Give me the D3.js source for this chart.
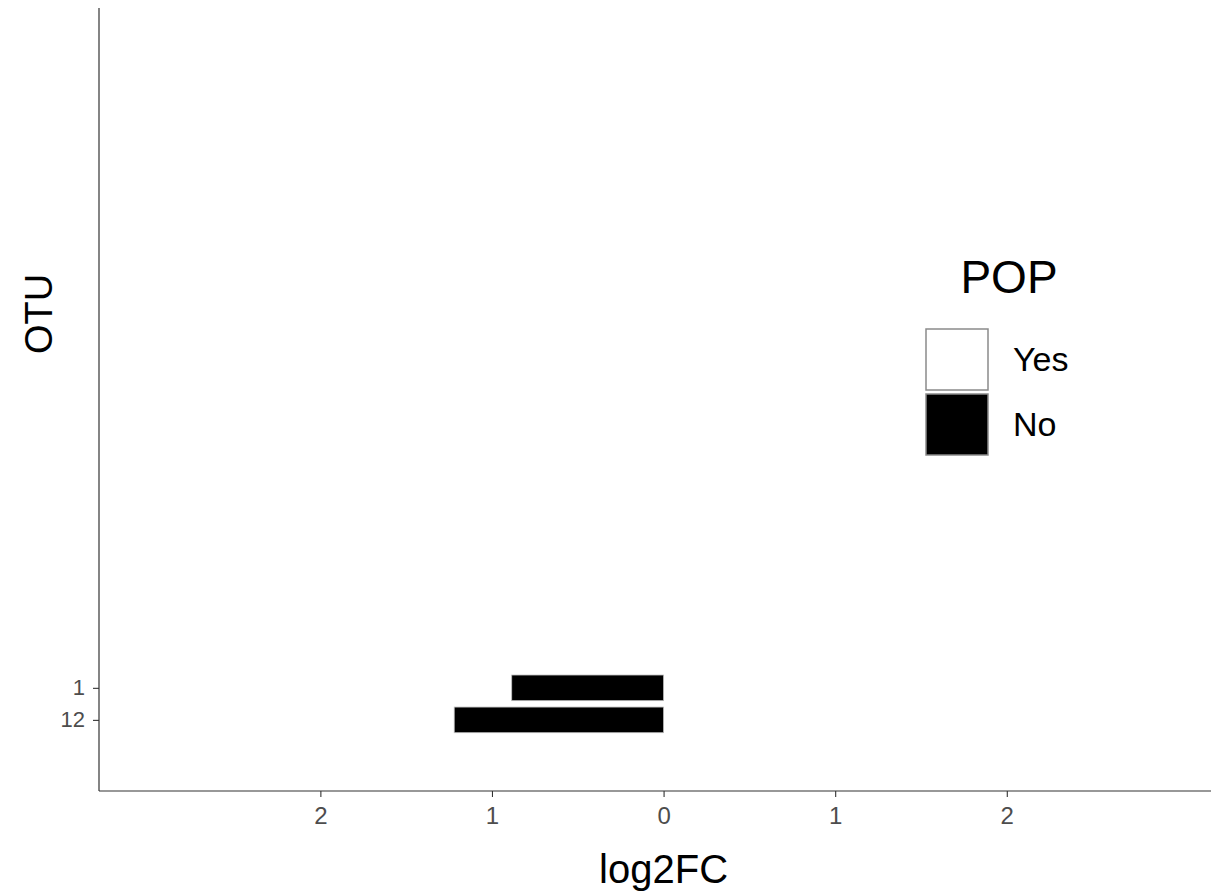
<!DOCTYPE html>
<html>
<head>
<meta charset="utf-8">
<script src="https://cdn.jsdelivr.net/npm/d3@7"></script>
<style>
   body { margin: 0; background: #fff; }
   text { font-family: "Liberation Sans", Arial, sans-serif; }
</style>
</head>
<body>
<svg id="chart" width="1220" height="893"></svg>
<script>
// DATA
var otuLabels = ['12', '1'];          // bottom to top, ggplot discrete order
var otuSlots = [1, 2];                // discrete positions of the levels
var log2FC = [-1.22, -0.885];         // bar values
var popStatus = ['No', 'No'];
var yLimits = [-1.22, 23.22];         // panel extent in slot units
var xLimits = [-3.29, 3.19];
var xTicks = [-2, -1, 0, 1, 2];
var legendLevels = ['Yes', 'No'];
var legendFills = ['#ffffff', '#000000'];

var svg = d3.select('#chart');

var bounds = {left: 99, right: 1211, top: 8, bottom: 791};

var x = d3.scaleLinear()
   .domain(xLimits)
   .range([bounds.left, bounds.right]);

var y = d3.scaleLinear()
   .domain(yLimits)
   .range([bounds.bottom, bounds.top]);

var fill = d3.scaleOrdinal()
   .domain(legendLevels)
   .range(legendFills);

var barWidth = 0.8;

var rows = otuLabels.map(function (label, i) {
   return {otu: label, slot: otuSlots[i], value: log2FC[i], pop: popStatus[i]};
});

// bars
svg.append('g')
   .selectAll('rect')
   .data(rows)
   .enter().append('rect')
   .attr('x', function (d) { return x(Math.min(0, d.value)); })
   .attr('width', function (d) { return Math.abs(x(d.value) - x(0)); })
   .attr('y', function (d) { return y(d.slot + barWidth / 2); })
   .attr('height', function (d) { return y(d.slot - barWidth / 2) - y(d.slot + barWidth / 2); })
   .attr('fill', function (d) { return fill(d.pop); })
   .attr('stroke', '#bdbdbd')
   .attr('stroke-width', 0.8);

// axes
var xAxis = d3.axisBottom(x)
   .tickValues(xTicks)
   .tickSize(6)
   .tickPadding(10)
   .tickFormat(function (d) { return Math.abs(d); });

var xg = svg.append('g')
   .attr('transform', 'translate(0,' + bounds.bottom + ')')
   .call(xAxis);

var yAxis = d3.axisLeft(y)
   .tickValues(otuSlots)
   .tickSize(6)
   .tickPadding(8)
   .tickFormat(function (d) { return otuLabels[otuSlots.indexOf(d)]; });

var yg = svg.append('g')
   .attr('transform', 'translate(' + bounds.left + ',0)')
   .call(yAxis);

[xg, yg].forEach(function (g) {
   g.select('.domain')
      .attr('d', g === xg
         ? 'M' + bounds.left + ',0H' + bounds.right
         : 'M0,' + bounds.top + 'V' + bounds.bottom)
      .attr('stroke', '#333')
      .attr('stroke-width', 1.2);
   g.selectAll('.tick line').attr('stroke', '#333').attr('stroke-width', 1.1);
   g.selectAll('.tick text')
      .attr('fill', '#4d4d4d')
      .style('font-size', g === xg ? '24px' : '22px')
      .style('font-family', '"Liberation Sans", Arial, sans-serif');
});

// axis titles
svg.append('text')
   .attr('x', x(0))
   .attr('y', 883)
   .attr('text-anchor', 'middle')
   .style('font-size', '40px')
   .text('log2FC');

svg.append('text')
   .attr('transform', 'translate(52,314) rotate(-90)')
   .attr('text-anchor', 'middle')
   .style('font-size', '38px')
   .text('OTU');

// legend
var legend = svg.append('g')
   .attr('transform', 'translate(926,329)');

legend.append('text')
   .attr('x', 83)
   .attr('y', -36)
   .attr('text-anchor', 'middle')
   .style('font-size', '46px')
   .text('POP');

var item = legend.selectAll('.legendItem')
   .data(legendLevels)
   .enter().append('g')
   .attr('class', 'legendItem')
   .attr('transform', function (d, i) { return 'translate(0,' + i * 65 + ')'; });

item.append('rect')
   .attr('width', 62)
   .attr('height', 61)
   .attr('fill', function (d) { return fill(d); })
   .attr('stroke', '#8a8a8a')
   .attr('stroke-width', 1.5);

item.append('text')
   .attr('x', 87)
   .attr('y', 30.5)
   .attr('dy', '0.35em')
   .style('font-size', '34px')
   .text(function (d) { return d; });
</script>
</body>
</html>
